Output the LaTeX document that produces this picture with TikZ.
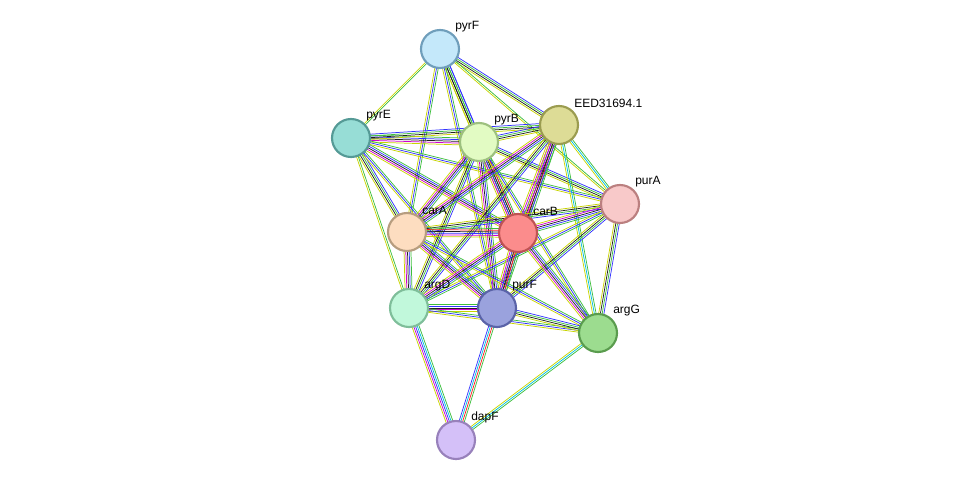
\documentclass[tikz,border=0pt]{standalone}
\usepackage{fontspec}
\setmainfont{Liberation Sans}
\usetikzlibrary{calc,backgrounds}
\definecolor{eg}{HTML}{3DBE3D}
\definecolor{ey}{HTML}{C8D400}
\definecolor{eb}{HTML}{3333FF}
\definecolor{em}{HTML}{D000D0}
\definecolor{er}{HTML}{FF2020}
\definecolor{ec}{HTML}{00C0E0}
\definecolor{ek}{HTML}{202020}
\tikzset{
  prot/.style={circle,minimum size=28.5pt,inner sep=0pt,line width=1.6pt},
  lab/.style={anchor=south west,font=\fontsize{9}{10}\selectfont,inner sep=0pt},
  eline/.style={line width=0.55pt}
}
\newcommand\edg[3]{\foreach \c/\o in #3{\draw[eline,\c] ($(#1)!\o*1.3pt!90:(#2)$) -- ($(#2)!\o*1.3pt!-90:(#1)$);}}
\newcommand\prot[6]{\definecolor{f#1}{HTML}{#4}\definecolor{d#1}{HTML}{#5}%
  \node[prot,fill=f#1,draw=d#1] (#1) at (#2,#3) {};
  \node[lab] (#1-l) at (#2+15,#3-17) {#6};}
\begin{document}
\begin{tikzpicture}[x=0.75pt,y=-0.75pt]
\useasboundingbox (0,0) rectangle (976,486);
\prot{pyrF}{440}{49}{C4E8FA}{6F9EBB}{pyrF}
\prot{pyrE}{351}{138}{97DDD6}{559A96}{pyrE}
\prot{pyrB}{479}{142}{E2FBC3}{9DC07F}{pyrB}
\prot{EED}{559}{125}{DDDC96}{9B9C50}{EED31694.1}
\prot{purA}{620}{204}{F8C9C9}{BB8080}{purA}
\prot{carA}{407}{232}{FDDDC0}{B79D7F}{carA}
\prot{carB}{518}{233}{FB8C8C}{BF5353}{carB}
\prot{argD}{409}{308}{C1F8DB}{7FBE9A}{argD}
\prot{purF}{497}{308}{9AA2DD}{5A63A8}{purF}
\prot{argG}{598}{333}{9CDC8F}{5A9C4E}{argG}
\prot{dapF}{456}{440}{D4C0F8}{9881BB}{dapF}
\begin{scope}[on background layer]
\def\two{ey/-0.5,eg/0.5}
\def\three{ey/-1,eb/0,eg/1}
\def\four{ey/-1.5,ek/-0.5,eg/0.5,eb/1.5}
\def\five{ey/-2,em/-1,ek/0,eb/1,eg/2}
\def\six{ey/-2.5,em/-1.5,eb/-0.5,ek/0.5,er/1.5,eg/2.5}
\def\cy{ey/-1,ec/0,eg/1}
\def\dA{ey/-2,em/-1,eb/0,ec/1,eg/2}
\def\dB{eb/-1.5,ec/-0.5,er/0.5,eg/1.5}
\edg{pyrF}{pyrE}{\two}
\edg{pyrF}{pyrB}{\four}
\edg{pyrF}{EED}{\four}
\edg{pyrF}{carA}{\three}
\edg{pyrF}{carB}{\four}
\edg{pyrF}{purF}{\three}
\edg{pyrF}{purA}{\two}
\edg{pyrE}{pyrB}{\five}
\edg{pyrE}{EED}{\four}
\edg{pyrE}{carA}{\four}
\edg{pyrE}{carB}{\five}
\edg{pyrE}{purF}{\three}
\edg{pyrE}{argD}{\two}
\edg{pyrE}{purA}{\three}
\edg{pyrB}{EED}{\four}
\edg{pyrB}{carA}{\five}
\edg{pyrB}{carB}{\six}
\edg{pyrB}{argD}{\four}
\edg{pyrB}{purF}{\five}
\edg{pyrB}{purA}{\four}
\edg{pyrB}{argG}{\three}
\edg{EED}{carA}{\five}
\edg{EED}{carB}{\six}
\edg{EED}{argD}{\four}
\edg{EED}{purF}{\five}
\edg{EED}{purA}{\cy}
\edg{EED}{argG}{\cy}
\edg{purA}{carA}{\four}
\edg{purA}{carB}{\five}
\edg{purA}{argD}{\three}
\edg{purA}{purF}{\four}
\edg{purA}{argG}{\four}
\edg{carA}{carB}{\six}
\edg{carA}{argD}{\five}
\edg{carA}{purF}{\five}
\edg{carA}{argG}{\three}
\edg{carB}{argD}{\five}
\edg{carB}{purF}{\six}
\edg{carB}{argG}{\five}
\edg{argD}{purF}{\five}
\edg{argD}{argG}{\three}
\edg{argD}{dapF}{\dA}
\edg{purF}{argG}{\four}
\edg{purF}{dapF}{\dB}
\edg{argG}{dapF}{\cy}
\end{scope}
\end{tikzpicture}
\end{document}
